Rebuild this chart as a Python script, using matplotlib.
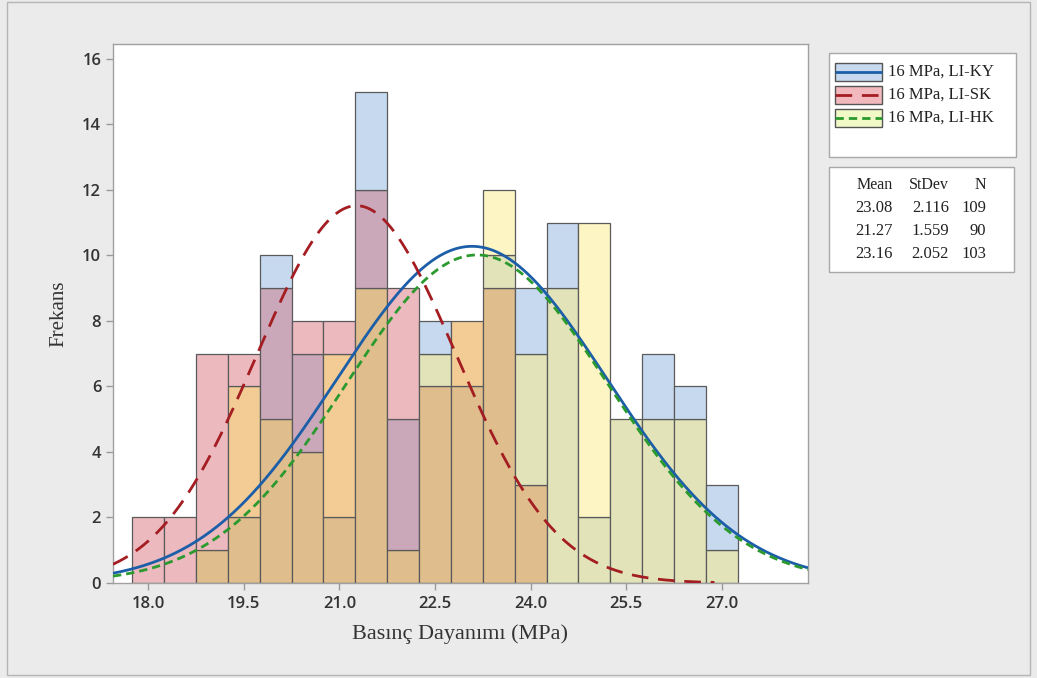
import numpy as np
import matplotlib
matplotlib.use("Agg")
import matplotlib.pyplot as plt
from matplotlib.patches import Rectangle
from matplotlib.lines import Line2D

# ---------------- data ----------------
bin_centers = [18.0, 18.5, 19.0, 19.5, 20.0, 20.5, 21.0, 21.5, 22.0, 22.5,
               23.0, 23.5, 24.0, 24.5, 25.0, 25.5, 26.0, 26.5, 27.0]
ky_counts = [0, 0, 1, 2, 10, 7, 2, 15, 5, 8, 6, 10, 9, 11, 2, 5, 7, 6, 3]
sk_counts = [2, 2, 7, 7, 9, 8, 8, 12, 9, 6, 8, 9, 3, 0, 0, 0, 0, 0, 0]
hk_counts = [0, 0, 1, 6, 5, 4, 7, 9, 1, 7, 8, 12, 7, 9, 11, 5, 5, 5, 1]
series_names = ["16 MPa, LI-KY", "16 MPa, LI-SK", "16 MPa, LI-HK"]
means = [23.08, 21.27, 23.16]
stdevs = [2.116, 1.559, 2.052]
ns = [109, 90, 103]
bin_width = 0.5
xticks = [18.0, 19.5, 21.0, 22.5, 24.0, 25.5, 27.0]
yticks = [0, 2, 4, 6, 8, 10, 12, 14, 16]

# ---------------- style ----------------
combo_colors = {
    frozenset([0]): "#c7d9ef",
    frozenset([1]): "#ecb9be",
    frozenset([2]): "#fdf5c3",
    frozenset([0, 1]): "#caa7b9",
    frozenset([0, 2]): "#e2e3b9",
    frozenset([1, 2]): "#f3cc95",
    frozenset([0, 1, 2]): "#dfbd8c",
}
legend_fill = ["#c7d9ef", "#f1b9bd", "#f1f9c6"]
line_colors = ["#1c5ea8", "#a31d22", "#2b9a2e"]
line_styles = [(0, ()), (0, (6, 3.5)), (0, (3, 1.8))]
edge = "#5a5a5a"
bg = "#ebebeb"

W, H = 1037, 678
fig = plt.figure(figsize=(W / 100, H / 100), dpi=100, facecolor=bg)

def fx(px):
    return px / W

def fy(py):
    return 1 - py / H

# outer frame
fig.patches.append(Rectangle((fx(7), fy(675)), fx(1030) - fx(7), fy(2) - fy(675),
                             transform=fig.transFigure, fill=False,
                             edgecolor="#b5b5b5", lw=1))

ax = fig.add_axes([fx(113), fy(583), fx(808) - fx(113), fy(44) - fy(583)])
ax.set_facecolor("white")
xlim = (17.45, 28.35)
ax.set_xlim(*xlim)
ax.set_ylim(0, 16.45)

counts = [ky_counts, sk_counts, hk_counts]
for i, c in enumerate(bin_centers):
    vals = [counts[s][i] for s in range(3)]
    levels = sorted(set([0] + vals))
    for lo, hi in zip(levels[:-1], levels[1:]):
        cover = frozenset(s for s in range(3) if vals[s] >= hi)
        ax.bar(c, hi - lo, bottom=lo, width=bin_width, color=combo_colors[cover],
               edgecolor=edge, linewidth=0.9, zorder=2)

for s in range(3):
    lo = max(xlim[0], means[s] - 3.6 * stdevs[s])
    hi = min(xlim[1], means[s] + 3.6 * stdevs[s])
    xs = np.linspace(lo, hi, 600)
    ys = ns[s] * bin_width / (stdevs[s] * np.sqrt(2 * np.pi)) * \
        np.exp(-0.5 * ((xs - means[s]) / stdevs[s]) ** 2)
    ax.plot(xs, ys, color=line_colors[s], lw=2.0, linestyle=line_styles[s],
            zorder=3 + s)

for sp in ax.spines.values():
    sp.set_color("#a0a0a0")
    sp.set_linewidth(1)

ax.set_xticks(xticks)
ax.set_xticklabels([f"{t:.1f}" for t in xticks])
ax.set_yticks(yticks)
ax.tick_params(axis="both", colors="#9a9a9a", length=5, width=1, labelcolor="#333333")
ax.tick_params(axis="x", pad=4)
for lab in ax.get_xticklabels() + ax.get_yticklabels():
    lab.set_fontfamily("Open Sans")
    lab.set_fontweight("semibold")
    lab.set_fontsize(12)

ax.set_xlabel("Basınç Dayanımı (MPa)", fontfamily="Liberation Serif", fontsize=16,
              color="#333333", labelpad=9)
ax.set_ylabel("Frekans", fontfamily="Liberation Serif", fontsize=15,
              color="#333333", labelpad=10)

# ---------------- legend panel (pixel coordinate helper axes) ----------------
lax = fig.add_axes([0, 0, 1, 1], facecolor="none")
lax.set_xlim(0, W)
lax.set_ylim(H, 0)
lax.axis("off")

lax.add_patch(Rectangle((829, 53), 187, 104, facecolor="white", edgecolor="#a8a8a8", lw=1))
row_y = [72, 95, 118]
for s in range(3):
    yc = row_y[s]
    lax.add_patch(Rectangle((835, yc - 9), 47, 18, facecolor=legend_fill[s],
                            edgecolor="#555555", lw=1))
    lax.add_line(Line2D([835, 882], [yc, yc], color=line_colors[s], lw=2.0,
                        linestyle=line_styles[s]))
    lax.text(888, yc, series_names[s], fontfamily="Liberation Serif", fontsize=12,
             color="#222222", va="center", ha="left")

lax.add_patch(Rectangle((829, 167), 185, 105, facecolor="white", edgecolor="#a8a8a8", lw=1))
col_x = [893, 949, 986]
hdr = ["Mean", "StDev", "N"]
for j in range(3):
    lax.text(col_x[j], 185, hdr[j], fontfamily="Liberation Serif", fontsize=11.5,
             color="#222222", va="center", ha="right")
stat_rows_y = [208, 231, 254]
for s in range(3):
    vals = [f"{means[s]:.2f}", f"{stdevs[s]:.3f}", f"{ns[s]}"]
    for j in range(3):
        lax.text(col_x[j], stat_rows_y[s], vals[j], fontfamily="Liberation Serif",
                 fontsize=12, color="#222222", va="center", ha="right")

fig.savefig("out.png", dpi=100, facecolor=bg)
